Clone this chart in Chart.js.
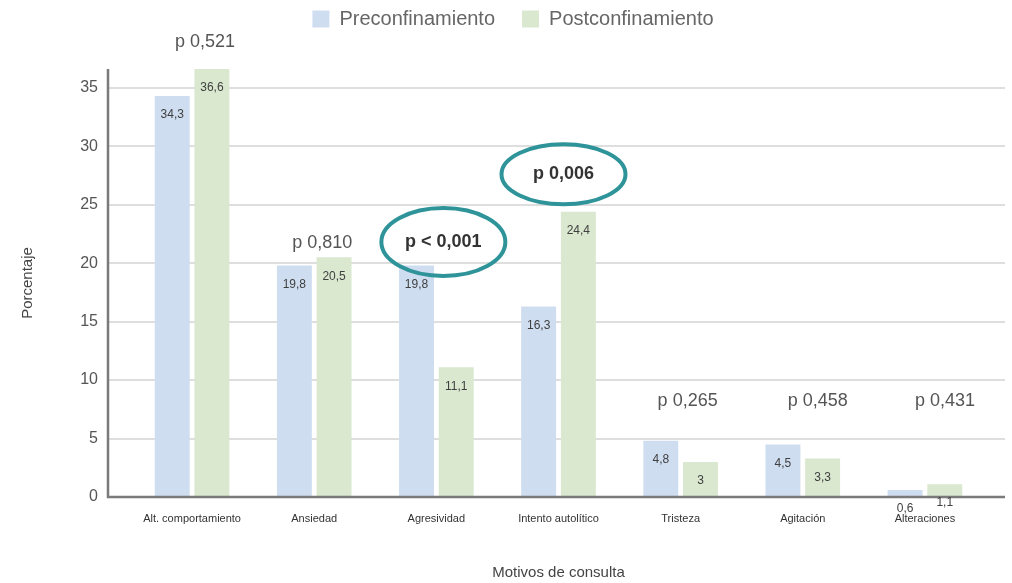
<!DOCTYPE html>
<html>
<head>
<meta charset="utf-8">
<script src="https://cdn.jsdelivr.net/npm/chart.js@4"></script>
<style>
  body { margin: 0; background: #fff; }
</style>
</head>
<body>
<canvas id="chart" width="1012" height="583"></canvas>
<script>
// Motivos de consulta, pre vs post confinamiento
const categorias = ['Alt. comportamiento', 'Ansiedad', 'Agresividad', 'Intento autolítico', 'Tristeza', 'Agitación', 'Alteraciones'];
const preconfinamiento = [34.3, 19.8, 19.8, 16.3, 4.8, 4.5, 0.6];
const postconfinamiento = [36.6, 20.5, 11.1, 24.4, 3, 3.3, 1.1];
const pValores = ['p 0,521', 'p 0,810', 'p < 0,001', 'p 0,006', 'p 0,265', 'p 0,458', 'p 0,431'];
const significativo = [false, false, true, true, false, false, false];
const yTicks = [0, 5, 10, 15, 20, 25, 30, 35];

// donde va cada etiqueta p (en unidades del eje y y desplazamiento en px)
const pPosY = [38.9, 21.7, 21.8, 27.6, 8.2, 8.2, 8.2];
const pDx = [13, 8, 7, 5, 7, 15, 20];

const fmt = v => String(v).replace('.', ',');

const extraLegend = {
    id: 'extraLegend',
    beforeInit(chart) {
        const fit = chart.legend.fit;
        chart.legend.fit = function () {
            fit.bind(this)();
            this.height += 30;
        };
    },
    afterLayout(chart) {
        // la leyenda del original va algo a la derecha
        chart.legend.left += 20;
        chart.legend.right += 20;
    }
};

// rejilla y ejes que se extienden fuera del area de categorias
const rejilla = {
    id: 'rejilla',
    beforeDatasetsDraw(chart) {
        const { ctx, scales: { y } } = chart;
        const x0 = 108, x1 = 1005;
        ctx.save();
        ctx.strokeStyle = '#dedede';
        ctx.lineWidth = 2;
        yTicks.forEach(t => {
            if (t === 0) return;
            const py = Math.round(y.getPixelForValue(t));
            ctx.beginPath();
            ctx.moveTo(x0, py);
            ctx.lineTo(x1, py);
            ctx.stroke();
        });
        ctx.restore();
    },
    afterDatasetsDraw(chart) {
        const { ctx, scales: { y } } = chart;
        const x0 = 108, x1 = 1005;
        const yb = y.getPixelForValue(0);
        ctx.save();
        ctx.strokeStyle = '#7a7a7a';
        ctx.lineWidth = 2.5;
        ctx.beginPath();
        ctx.moveTo(x0, y.getPixelForValue(36.6));
        ctx.lineTo(x0, yb);
        ctx.lineTo(x1, yb);
        ctx.stroke();
        ctx.restore();
    }
};

const etiquetas = {
    id: 'etiquetas',
    afterDraw(chart) {
        const { ctx, scales: { x, y } } = chart;
        ctx.save();
        ctx.textAlign = 'center';
        ctx.textBaseline = 'middle';
        // valores dentro de las barras
        ctx.font = '12px "Liberation Sans Narrow", "Liberation Sans", Arial, sans-serif';
        ctx.fillStyle = '#3f3f3f';
        chart.data.datasets.forEach((ds, i) => {
            chart.getDatasetMeta(i).data.forEach((bar, j) => {
                ctx.fillText(fmt(ds.data[j]), bar.x, bar.y + 19);
            });
        });
        // valores p
        categorias.forEach((c, i) => {
            const cx = x.getPixelForValue(i) + pDx[i];
            const cy = y.getPixelForValue(pPosY[i]);
            ctx.font = (significativo[i] ? 'bold 18px' : '18px') + ' "Liberation Sans", Arial, sans-serif';
            ctx.fillStyle = significativo[i] ? '#333' : '#555';
            ctx.fillText(pValores[i], cx, cy);
            if (significativo[i]) {
                ctx.strokeStyle = '#2e9499';
                ctx.lineWidth = 4;
                ctx.beginPath();
                ctx.ellipse(cx, cy, 62, i === 2 ? 34 : 30, 0, 0, Math.PI * 2);
                ctx.stroke();
            }
        });
        ctx.restore();
    }
};

const ctx = document.getElementById('chart').getContext('2d');
const chart = new Chart(ctx, {
    type: 'bar',
    data: {
        labels: categorias,
        datasets: [{
            label: 'Preconfinamiento',
            data: preconfinamiento,
            backgroundColor: '#cfddf1',
            categoryPercentage: 0.65,
            barPercentage: 0.88
        }, {
            label: 'Postconfinamiento',
            data: postconfinamiento,
            backgroundColor: '#d9e8cf',
            categoryPercentage: 0.65,
            barPercentage: 0.88
        }]
    },
    options: {
        responsive: false,
        animation: false,
        layout: { padding: { left: 0, right: 26, top: -18, bottom: 0 } },
        plugins: {
            legend: {
                position: 'top',
                labels: {
                    boxWidth: 17,
                    boxHeight: 17,
                    padding: 27,
                    color: '#666',
                    font: { size: 20, family: '"Liberation Sans", Arial, sans-serif' }
                }
            },
            tooltip: { enabled: false }
        },
        scales: {
            x: {
                grid: { display: false, drawTicks: false },
                border: { display: false },
                ticks: {
                    padding: 15,
                    maxRotation: 0,
                    autoSkip: false,
                    color: '#333',
                    font: { size: 11, family: '"Liberation Sans Narrow", "Liberation Sans", Arial, sans-serif' }
                },
                title: {
                    display: true,
                    text: 'Motivos de consulta',
                    color: '#444',
                    padding: { top: 0, bottom: 1 },
                    font: { size: 15, family: '"Liberation Sans", Arial, sans-serif' }
                },
                afterFit(scale) { scale.height = 86; }
            },
            y: {
                min: 0,
                max: 36.6,
                grid: { display: false, drawTicks: false },
                border: { display: false },
                afterBuildTicks(scale) {
                    scale.ticks = yTicks.map(v => ({ value: v }));
                },
                ticks: {
                    padding: 33,
                    color: '#555',
                    font: { size: 16, family: '"Liberation Sans", Arial, sans-serif' }
                },
                title: {
                    display: true,
                    text: 'Porcentaje',
                    color: '#444',
                    padding: { top: 19, bottom: 0 },
                    font: { size: 15, family: '"Liberation Sans", Arial, sans-serif' }
                },
                afterFit(scale) { scale.width = 131; }
            }
        }
    },
    plugins: [extraLegend, rejilla, etiquetas]
});
</script>
</body>
</html>
